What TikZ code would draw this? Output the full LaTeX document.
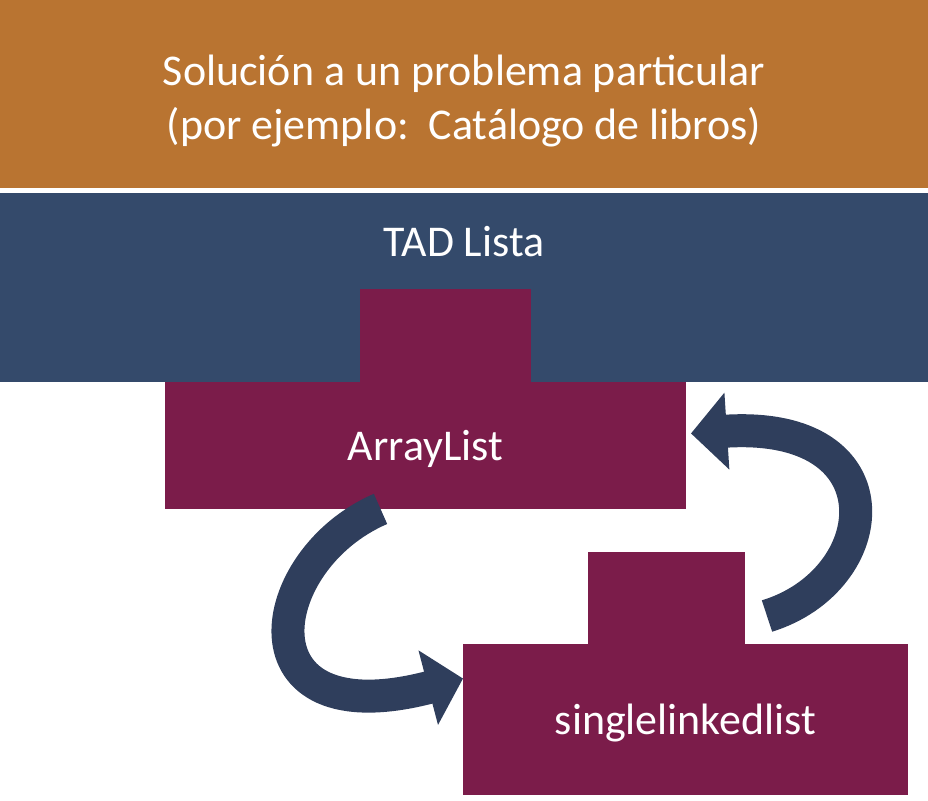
\documentclass[tikz,border=0pt]{standalone}
\usepackage{fontspec}
\setmainfont{Carlito}
\definecolor{casecolor}{RGB}{185,116,49}
\definecolor{adtcolor}{RGB}{52,74,107}
\definecolor{implcolor}{RGB}{123,28,74}
\definecolor{swapcolor}{RGB}{47,62,92}
\usetikzlibrary{arrows.meta,positioning}

\begin{document}
\begin{tikzpicture}[
    x=0.02cm, y=-0.02cm,
    band/.style={inner sep=0pt, outer sep=0pt, minimum width=18.56cm,
                 text=white, font=\fontsize{25}{31}\selectfont, align=center},
    impl/.style={fill=implcolor, inner sep=0pt, outer sep=0pt, text depth=0pt,
                 text=white, font=\fontsize{25}{31}\selectfont},
    tab/.style={fill=implcolor, inner sep=0pt, outer sep=0pt},
    swap/.style={line width=0.66cm, swapcolor,
                 -{Triangle[length=0.72cm, width=1.5cm]}}
  ]
  \useasboundingbox (0,0) rectangle (928,800);
  \node[band, fill=casecolor, minimum height=3.76cm] (case) at (464,94) {};
  \node[band, minimum width=0pt] (caselabel) at ([yshift=-0.14cm]case.center)
       {Solución a un problema particular\\(por ejemplo:\ \ Catálogo de libros)};
  \node[band, fill=adtcolor, minimum height=3.78cm] (adt) [below=0.1cm of case] {};
  \node[band, minimum width=0pt] (adtlabel) at ([yshift=-0.98cm]adt.north) {TAD Lista};
  % implementations
  \node[impl, minimum width=10.42cm, minimum height=2.54cm] (arraylist)
       [below=0pt of adt.south, xshift=-0.77cm] {ArrayList};
  \node[tab, minimum width=3.42cm, minimum height=1.86cm] (arraytab)
       [above=0pt of arraylist.north, xshift=0.4cm] {};
  \node[impl, minimum width=8.9cm, minimum height=3.02cm] (sll) at (685.5,719.5)
       {singlelinkedlist};
  \node[tab, minimum width=3.14cm, minimum height=1.84cm] (slltab)
       [above=0pt of sll.north, xshift=-0.38cm] {};
  % swap arrows
  \draw[swap] ([xshift=-0.9cm]arraylist.south)
       .. controls (262,560) and (236,738) .. ([yshift=0.82cm]sll.west);
  \draw[swap] ([xshift=0.44cm, yshift=-0.36cm]slltab.east)
       .. controls (884,580) and (900,420) .. ([xshift=0.1cm, yshift=0.24cm]arraylist.east);
\end{tikzpicture}
\end{document}
